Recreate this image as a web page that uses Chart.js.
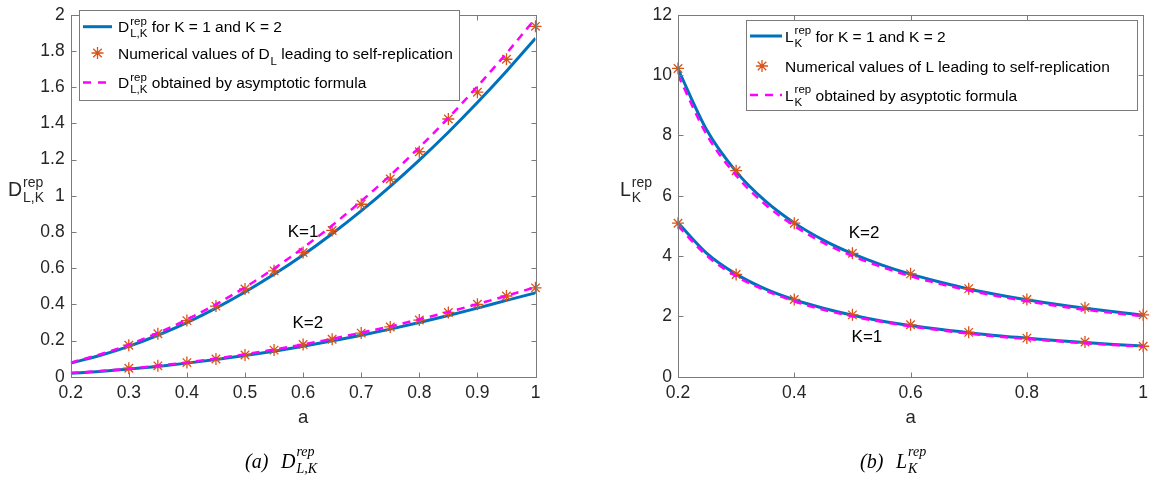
<!DOCTYPE html>
<html>
<head>
<meta charset="utf-8">
<script src="https://cdn.jsdelivr.net/npm/chart.js@4.4.1/dist/chart.umd.min.js"></script>
<style>
  html, body { margin: 0; padding: 0; background: #fff; }
  #wrap { position: relative; width: 1154px; height: 481px; }
  canvas { position: absolute; top: 0; }
</style>
</head>
<body>
<div id="wrap">
  <canvas id="cD" width="577" height="481" style="left:0"></canvas>
  <canvas id="cL" width="577" height="481" style="left:577px"></canvas>
</div>
<script>
// ---- panel (a): D_rep ----
var aCurve = [0.2, 0.25, 0.3, 0.35, 0.4, 0.45, 0.5, 0.55, 0.6, 0.65, 0.7, 0.75, 0.8, 0.85, 0.9, 0.95, 1.0];
var dRepK1 = [0.075, 0.117, 0.168, 0.229, 0.299, 0.379, 0.468, 0.566, 0.673, 0.79, 0.916, 1.052, 1.197, 1.351, 1.515, 1.688, 1.87];
var dRepK2 = [0.019, 0.029, 0.042, 0.057, 0.075, 0.095, 0.117, 0.141, 0.168, 0.198, 0.229, 0.263, 0.299, 0.338, 0.379, 0.422, 0.463];
var dAsyK1 = [0.078, 0.123, 0.177, 0.242, 0.316, 0.4, 0.494, 0.598, 0.712, 0.836, 0.97, 1.113, 1.267, 1.43, 1.604, 1.787, 1.98];
var dAsyK2 = [0.02, 0.031, 0.044, 0.061, 0.079, 0.1, 0.124, 0.15, 0.178, 0.209, 0.243, 0.278, 0.317, 0.358, 0.401, 0.447, 0.495];
var aNumD  = [0.3, 0.35, 0.4, 0.45, 0.5, 0.55, 0.6, 0.65, 0.7, 0.75, 0.8, 0.85, 0.9, 0.95, 1.0];
var dNumK1 = [0.174, 0.237, 0.31, 0.39, 0.485, 0.585, 0.686, 0.808, 0.953, 1.092, 1.243, 1.424, 1.572, 1.754, 1.936];
var dNumK2 = [0.047, 0.06, 0.078, 0.098, 0.12, 0.147, 0.178, 0.207, 0.241, 0.275, 0.313, 0.355, 0.4, 0.446, 0.491];
var dTicksX = [0.2, 0.3, 0.4, 0.5, 0.6, 0.7, 0.8, 0.9, 1];
var dTicksY = [0, 0.2, 0.4, 0.6, 0.8, 1, 1.2, 1.4, 1.6, 1.8, 2];

// ---- panel (b): L_rep ----
var lRepK1 = [5.1, 4.08, 3.4, 2.91, 2.55, 2.27, 2.04, 1.85, 1.7, 1.57, 1.46, 1.36, 1.28, 1.2, 1.13, 1.07, 1.02];
var lRepK2 = [10.2, 8.16, 6.8, 5.83, 5.1, 4.53, 4.08, 3.71, 3.4, 3.14, 2.91, 2.72, 2.55, 2.4, 2.27, 2.15, 2.04];
var lAsyK1 = [5.0, 4.0, 3.33, 2.86, 2.5, 2.22, 2.0, 1.82, 1.67, 1.54, 1.43, 1.33, 1.25, 1.18, 1.11, 1.05, 1.0];
var lAsyK2 = [10.0, 8.0, 6.67, 5.71, 5.0, 4.44, 4.0, 3.64, 3.33, 3.08, 2.86, 2.67, 2.5, 2.35, 2.22, 2.11, 2.0];
var aNumL  = [0.2, 0.3, 0.4, 0.5, 0.6, 0.7, 0.8, 0.9, 1.0];
var lNumK1 = [5.09, 3.39, 2.56, 2.05, 1.72, 1.47, 1.28, 1.15, 1.01];
var lNumK2 = [10.22, 6.83, 5.09, 4.09, 3.41, 2.92, 2.56, 2.29, 2.05];
var lTicksX = [0.2, 0.4, 0.6, 0.8, 1];
var lTicksY = [0, 2, 4, 6, 8, 10, 12];

var SANS = '"Liberation Sans", Arial, Helvetica, sans-serif';
var SERIF = '"Liberation Serif", "Times New Roman", serif';
var AXIS = '#7b7b7b', TXT = '#262626';
var BLUE = '#0072BD', ORANGE = '#D95319', PINK = '#FF00FF';

function pts(xs, ys) {
  return xs.map(function(x, i) { return {x: x, y: ys[i]}; });
}

function star(ctx, x, y, r) {
  var d = r * Math.SQRT1_2;
  ctx.beginPath();
  ctx.moveTo(x - r, y); ctx.lineTo(x + r, y);
  ctx.moveTo(x, y - r); ctx.lineTo(x, y + r);
  ctx.moveTo(x - d, y - d); ctx.lineTo(x + d, y + d);
  ctx.moveTo(x - d, y + d); ctx.lineTo(x + d, y - d);
  ctx.stroke();
}

// text with stacked super/subscripts, baseline at y
function rich(ctx, x, y, parts, o) {
  var cx = x;
  ctx.textAlign = 'left';
  ctx.textBaseline = 'alphabetic';
  parts.forEach(function(p) {
    if (typeof p === 'string') {
      ctx.font = o.style + ' ' + o.size + 'px ' + o.family;
      ctx.fillText(p, cx, y);
      cx += ctx.measureText(p).width;
    } else {
      ctx.font = o.style + ' ' + o.ss + 'px ' + o.family;
      var w = 0;
      if (p.sup) { ctx.fillText(p.sup, cx + 1, y - o.rise); w = Math.max(w, ctx.measureText(p.sup).width); }
      if (p.sub) { ctx.fillText(p.sub, cx + 1, y + (p.sup ? o.drop : o.drop1)); w = Math.max(w, ctx.measureText(p.sub).width); }
      cx += w + 1;
    }
  });
  return cx;
}

function decor(cfg) {
  return {
    id: 'decor',
    afterDatasetsDraw: function(chart) {
      var ctx = chart.ctx, a = chart.chartArea, sx = chart.scales.x, sy = chart.scales.y;
      var L = Math.round(a.left) + 0.5, R = Math.round(a.right) + 0.5;
      var T = Math.round(a.top) + 0.5, B = Math.round(a.bottom) + 0.5;
      ctx.save();
      ctx.strokeStyle = AXIS;
      ctx.lineWidth = 1;
      ctx.strokeRect(L, T, R - L, B - T);
      ctx.beginPath();
      sx.ticks.forEach(function(t) {
        var px = Math.round(sx.getPixelForValue(t.value)) + 0.5;
        ctx.moveTo(px, B); ctx.lineTo(px, B - 5);
        ctx.moveTo(px, T); ctx.lineTo(px, T + 5);
      });
      sy.ticks.forEach(function(t) {
        var py = Math.round(sy.getPixelForValue(t.value)) + 0.5;
        ctx.moveTo(L, py); ctx.lineTo(L + 5, py);
        ctx.moveTo(R, py); ctx.lineTo(R - 5, py);
      });
      ctx.stroke();
      // curve labels
      ctx.fillStyle = '#000';
      ctx.font = '17px ' + SANS;
      ctx.textAlign = 'center';
      ctx.textBaseline = 'middle';
      cfg.labels.forEach(function(l) {
        ctx.fillText(l.text, sx.getPixelForValue(l.x), sy.getPixelForValue(l.y));
      });
      ctx.restore();
    },
    afterDraw: function(chart) {
      var ctx = chart.ctx, g = cfg.legend;
      ctx.save();
      // legend box
      ctx.fillStyle = '#fff';
      ctx.fillRect(g.x, g.y, g.w, g.h);
      ctx.strokeStyle = AXIS;
      ctx.lineWidth = 1;
      ctx.strokeRect(Math.round(g.x) + 0.5, Math.round(g.y) + 0.5, Math.round(g.w), Math.round(g.h));
      // samples
      ctx.strokeStyle = BLUE; ctx.lineWidth = 3;
      ctx.beginPath(); ctx.moveTo(g.x0, g.rows[0]); ctx.lineTo(g.x1, g.rows[0]); ctx.stroke();
      ctx.strokeStyle = ORANGE; ctx.lineWidth = 1.3;
      star(ctx, g.sx, g.rows[1], 6);
      ctx.strokeStyle = PINK; ctx.lineWidth = 2.5; ctx.setLineDash([8, 7]);
      ctx.beginPath(); ctx.moveTo(g.x0, g.rows[2]); ctx.lineTo(g.x1, g.rows[2]); ctx.stroke();
      ctx.setLineDash([]);
      // legend text
      ctx.fillStyle = '#000';
      var lo = {size: 15.5, ss: 11.5, rise: 7.5, drop: 5, drop1: 6, family: SANS, style: ''};
      g.text.forEach(function(parts, i) {
        rich(ctx, g.tx, g.rows[i] + 5.6, parts, lo);
      });
      // y title
      ctx.fillStyle = TXT;
      rich(ctx, cfg.ytitle.x, cfg.ytitle.y, cfg.ytitle.parts,
           {size: 19.5, ss: 14, rise: 9.5, drop: 6, drop1: 6, family: SANS, style: ''});
      // caption
      ctx.fillStyle = '#000';
      var co = {size: 20, ss: 14, rise: 12.5, drop: 5, drop1: 5, family: SERIF, style: 'italic'};
      rich(ctx, cfg.caption.x, 468, [cfg.caption.tag], co);
      rich(ctx, cfg.caption.x2, 468, cfg.caption.parts, co);
      ctx.restore();
    }
  };
}

function makeChart(id, c) {
  var ds = [
    {data: pts(aCurve, c.rep1), borderColor: BLUE, borderWidth: 3, pointRadius: 0, cubicInterpolationMode: 'monotone', order: 3},
    {data: pts(aCurve, c.rep2), borderColor: BLUE, borderWidth: 3, pointRadius: 0, cubicInterpolationMode: 'monotone', order: 3},
    {data: pts(c.aNum, c.num1), showLine: false, pointStyle: 'star', pointRadius: 6, pointBorderWidth: 1.3, borderColor: ORANGE, backgroundColor: ORANGE, clip: false, order: 2},
    {data: pts(c.aNum, c.num2), showLine: false, pointStyle: 'star', pointRadius: 6, pointBorderWidth: 1.3, borderColor: ORANGE, backgroundColor: ORANGE, clip: false, order: 2},
    {data: pts(aCurve, c.asy1), borderColor: PINK, borderWidth: 2.5, borderDash: [8, 6], pointRadius: 0, cubicInterpolationMode: 'monotone', order: 1},
    {data: pts(aCurve, c.asy2), borderColor: PINK, borderWidth: 2.5, borderDash: [8, 6], pointRadius: 0, cubicInterpolationMode: 'monotone', order: 1}
  ];
  return new Chart(document.getElementById(id), {
    type: 'line',
    data: {datasets: ds},
    options: {
      responsive: false,
      animation: false,
      events: [],
      layout: {padding: c.pad},
      plugins: {legend: {display: false}, tooltip: {enabled: false}},
      scales: {
        x: {
          type: 'linear', min: 0.2, max: 1,
          grid: {display: false, drawTicks: false},
          border: {display: false},
          afterBuildTicks: function(s) { s.ticks = c.tx.map(function(v) { return {value: v}; }); },
          afterFit: function(s) { s.height = 53.3; },
          ticks: {color: TXT, font: {family: SANS, size: 17.5}, padding: 6, maxRotation: 0,
                  callback: function(v) { return String(v); }},
          title: {display: true, text: 'a', color: TXT, font: {family: SANS, size: 18.5}, padding: {top: 0, bottom: 1}}
        },
        y: {
          type: 'linear', min: c.ymin, max: c.ymax,
          grid: {display: false, drawTicks: false},
          border: {display: false},
          afterBuildTicks: function(s) { s.ticks = c.ty.map(function(v) { return {value: v}; }); },
          afterFit: function(s) { s.width = c.yw; },
          ticks: {color: TXT, font: {family: SANS, size: 17.5, lineHeight: 1}, padding: 6,
                  callback: function(v) { return String(v); }}
        }
      }
    },
    plugins: [decor(c.decor)]
  });
}

makeChart('cD', {
  rep1: dRepK1, rep2: dRepK2, asy1: dAsyK1, asy2: dAsyK2,
  aNum: aNumD, num1: dNumK1, num2: dNumK2,
  tx: dTicksX, ty: dTicksY, ymin: 0, ymax: 2, yw: 70.7,
  pad: {left: 0, right: 41.5, top: 9, bottom: 51},
  decor: {
    labels: [{text: 'K=1', x: 0.6, y: 0.8}, {text: 'K=2', x: 0.608, y: 0.295}],
    legend: {x: 79, y: 10, w: 380, h: 90, x0: 83, x1: 112, sx: 97.5, tx: 118, rows: [26.7, 53, 82.5],
      text: [
        ['D', {sup: 'rep', sub: 'L,K'}, ' for K = 1 and K = 2'],
        ['Numerical values of D', {sub: 'L'}, ' leading to self-replication'],
        ['D', {sup: 'rep', sub: 'L,K'}, ' obtained by asymptotic formula']
      ]},
    ytitle: {x: 8, y: 196, parts: ['D', {sup: 'rep', sub: 'L,K'}]},
    caption: {x: 245, x2: 281, tag: '(a)', parts: ['D', {sup: 'rep', sub: 'L,K'}]}
  }
});

makeChart('cL', {
  rep1: lRepK1, rep2: lRepK2, asy1: lAsyK1, asy2: lAsyK2,
  aNum: aNumL, num1: lNumK1, num2: lNumK2,
  tx: lTicksX, ty: lTicksY, ymin: 0, ymax: 12, yw: 101,
  pad: {left: 0, right: 10.7, top: 9, bottom: 51},
  decor: {
    labels: [{text: 'K=2', x: 0.52, y: 4.77}, {text: 'K=1', x: 0.525, y: 1.31}],
    legend: {x: 168.7, y: 20, w: 391, h: 90, x0: 173, x1: 205, sx: 185, tx: 208, rows: [36, 66, 95],
      text: [
        ['L', {sup: 'rep', sub: 'K'}, ' for K = 1 and K = 2'],
        ['Numerical values of L leading to self-replication'],
        ['L', {sup: 'rep', sub: 'K'}, ' obtained by asyptotic formula']
      ]},
    ytitle: {x: 43, y: 196, parts: ['L', {sup: 'rep', sub: 'K'}]},
    caption: {x: 283, x2: 319, tag: '(b)', parts: ['L', {sup: 'rep', sub: 'K'}]}
  }
});
</script>
</body>
</html>
